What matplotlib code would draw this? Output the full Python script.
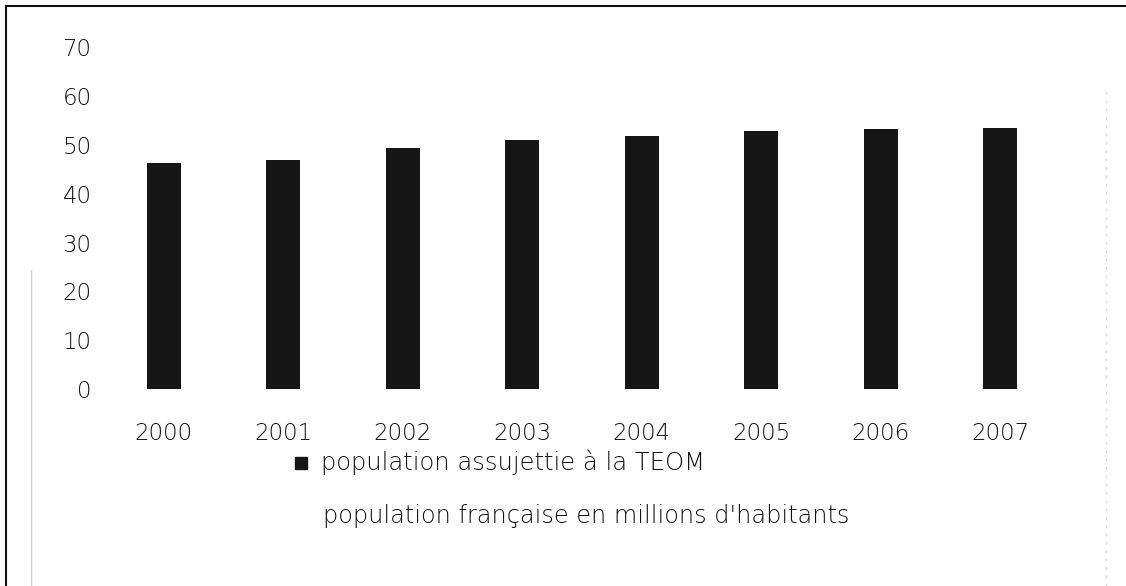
import matplotlib
matplotlib.use("Agg")
import matplotlib.pyplot as plt
from matplotlib.lines import Line2D
from matplotlib.patches import Rectangle

# population assujettie à la TEOM (millions d'habitants)
years = ["2000", "2001", "2002", "2003", "2004", "2005", "2006", "2007"]
teom_pop = [46.3, 46.9, 49.5, 51.0, 51.9, 52.9, 53.3, 53.5]
y_ticks = [0, 10, 20, 30, 40, 50, 60, 70]

legend_label = "population assujettie à la TEOM"
axis_title = "population française en millions d'habitants"

W, H = 1126, 586
plt.rcParams["font.family"] = ["DejaVu Sans"]
plt.rcParams["font.weight"] = "light"

fig = plt.figure(figsize=(W / 100, H / 100), dpi=100)
fig.patch.set_facecolor("white")

# plot area in pixel terms
left, right, y0, y70 = 104, 1060, 389, 47.5
ax = fig.add_axes([left / W, (H - y0) / H, (right - left) / W, (y0 - y70) / H])

x = range(len(years))
ax.bar(x, teom_pop, width=0.285, color="#161616")
ax.set_xlim(-0.5, len(years) - 0.5)
ax.set_ylim(0, 70)
ax.set_yticks(y_ticks)
ax.set_xticks(list(x))
ax.set_xticklabels(years)
for s in ax.spines.values():
    s.set_visible(False)
ax.tick_params(axis="both", length=0, labelsize=16.5, colors="#111111")
ax.tick_params(axis="y", pad=9)
ax.tick_params(axis="x", pad=24)

# legend entry and axis caption below the bars
fig.patches.append(Rectangle((295 / W, (H - 469) / H), 12 / W, 12 / H,
                             transform=fig.transFigure, color="#161616"))
fig.text(321 / W, (H - 462) / H, legend_label, fontsize=17.5, color="#111111",
         va="center", ha="left")
fig.text(323 / W, (H - 516) / H, axis_title, fontsize=17.3, color="#111111",
         va="center", ha="left")

# chart frame
fig.add_artist(Line2D([6 / W, 6 / W], [0, 1 - 6 / H], color="#111111", lw=1.5))
fig.add_artist(Line2D([6 / W, 1], [1 - 6 / H, 1 - 6 / H], color="#111111", lw=1.5))
fig.add_artist(Line2D([31 / W, 31 / W], [0, (H - 270) / H], color="#d0d0d0", lw=1))
fig.add_artist(Line2D([1106 / W, 1106 / W], [0, (H - 90) / H], color="#d8d8d8",
                      lw=1, ls=(0, (2, 4))))

fig.savefig("out.png", dpi=100)
